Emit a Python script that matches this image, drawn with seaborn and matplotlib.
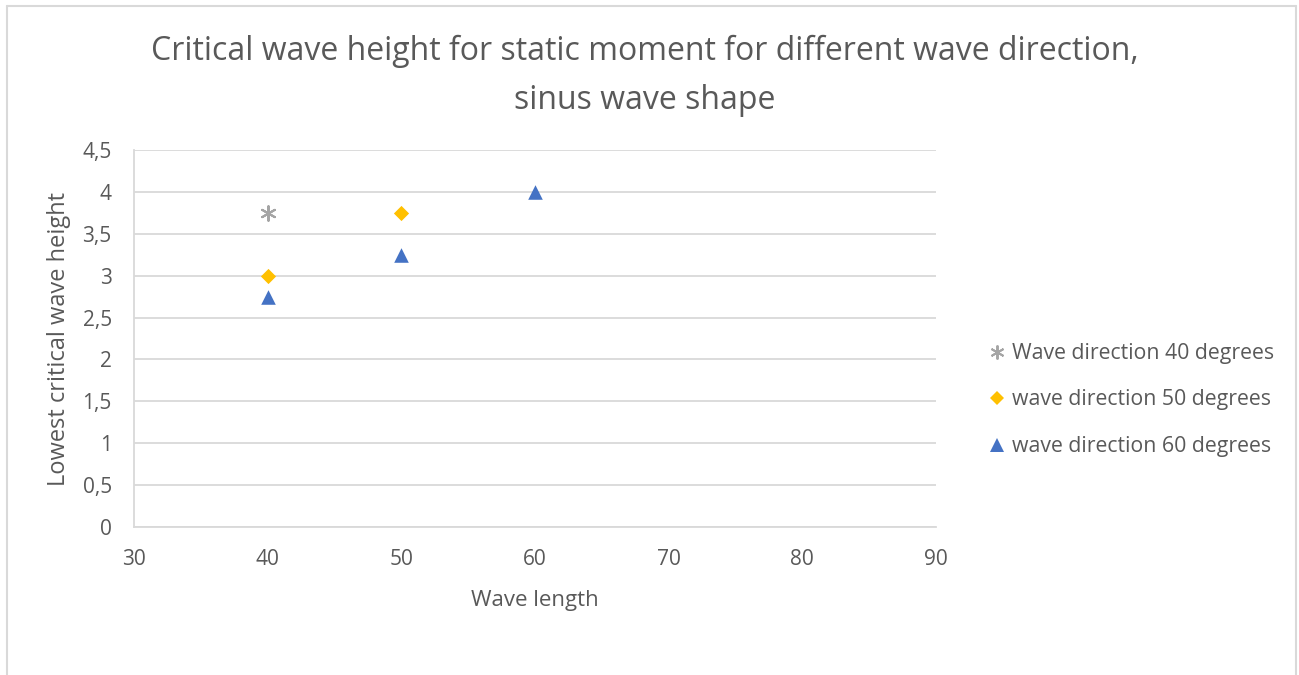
import matplotlib
matplotlib.use("Agg")
import matplotlib.pyplot as plt
import seaborn as sns
import pandas as pd
from matplotlib.lines import Line2D
from matplotlib.ticker import FuncFormatter

# ---- data ----
series_names = ["Wave direction 40 degrees", "wave direction 50 degrees", "wave direction 60 degrees"]
len_40 = [40]
height_40 = [3.75]
len_50 = [40, 50]
height_50 = [3.0, 3.75]
len_60 = [40, 50, 60]
height_60 = [2.75, 3.25, 4.0]

title = "Critical wave height for static moment for different wave direction,\nsinus wave shape"
x_label = "Wave length"
y_label = "Lowest critical wave height"

df = pd.DataFrame({
    "x": len_40 + len_50 + len_60,
    "y": height_40 + height_50 + height_60,
    "series": [series_names[0]] * len(len_40) + [series_names[1]] * len(len_50) + [series_names[2]] * len(len_60),
})

sns.set_theme(style="white")
FONT = ["Open Sans", "DejaVu Sans"]
plt.rcParams["font.family"] = FONT
TXT = "#595959"

colors = {series_names[0]: "#a5a5a5", series_names[1]: "#ffc000", series_names[2]: "#4472c4"}
markers = {series_names[0]: (6, 2, 0), series_names[1]: "D", series_names[2]: "^"}
sizes = {series_names[0]: 110, series_names[1]: 60, series_names[2]: 110}

fig = plt.figure(figsize=(12.99, 6.75), dpi=100)
ax = fig.add_axes([134 / 1299, 1 - 527 / 675, (936 - 134) / 1299, (527 - 150) / 675])

for name in series_names:
    sub = df[df["series"] == name]
    sns.scatterplot(data=sub, x="x", y="y", ax=ax, color=colors[name], marker=markers[name],
                    s=sizes[name], linewidth=1.5 if name == series_names[0] else 0,
                    edgecolor=colors[name], legend=False, zorder=3)

ax.set_xlim(30, 90)
ax.set_ylim(0, 4.5)
ax.set_xticks([30, 40, 50, 60, 70, 80, 90])
ax.set_yticks([0, 0.5, 1, 1.5, 2, 2.5, 3, 3.5, 4, 4.5])
fmt = FuncFormatter(lambda v, p: ("%g" % v).replace(".", ","))
ax.xaxis.set_major_formatter(fmt)
ax.yaxis.set_major_formatter(fmt)
ax.grid(axis="y", color="#d9d9d9", linewidth=1.3)
ax.grid(axis="x", visible=False)
ax.set_axisbelow(True)
for s in ["top", "right"]:
    ax.spines[s].set_visible(False)
for s in ["left", "bottom"]:
    ax.spines[s].set_color("#d9d9d9")
    ax.spines[s].set_linewidth(1.3)
ax.tick_params(axis="both", colors=TXT, labelsize=15, length=0)
ax.tick_params(axis="y", pad=16)
ax.tick_params(axis="x", pad=16)
ax.set_xlabel(x_label, color=TXT, fontsize=16, labelpad=14)
ax.set_ylabel(y_label, color=TXT, fontsize=17, labelpad=8)

fig.text(645 / 1299, 1 - 76 / 675, title, ha="center", va="center", fontsize=23, color=TXT,
         linespacing=1.65)

handles = [Line2D([], [], linestyle="none", marker=markers[n], color=colors[n],
                  markersize=10 if n != series_names[1] else 7.5, markeredgewidth=1.4 if n == series_names[0] else 0)
           for n in series_names]
leg = fig.legend(handles, series_names, loc="upper left", bbox_to_anchor=(988 / 1299, 1 - 343 / 675),
                 frameon=False, fontsize=15.3, handlelength=0.8, handletextpad=0.35, labelspacing=1.2,
                 borderaxespad=0, borderpad=0)
for t in leg.get_texts():
    t.set_color(TXT)

# outer chart border (left, top, right)
bc = "#d9d9d9"
fig.add_artist(Line2D([7 / 1299, 7 / 1299], [0, 1 - 6 / 675], color=bc, lw=1.5, transform=fig.transFigure))
fig.add_artist(Line2D([7 / 1299, 1296 / 1299], [1 - 6 / 675, 1 - 6 / 675], color=bc, lw=1.5, transform=fig.transFigure))
fig.add_artist(Line2D([1296 / 1299, 1296 / 1299], [0, 1 - 6 / 675], color=bc, lw=1.5, transform=fig.transFigure))

fig.savefig("out.png", dpi=100, facecolor="white")
